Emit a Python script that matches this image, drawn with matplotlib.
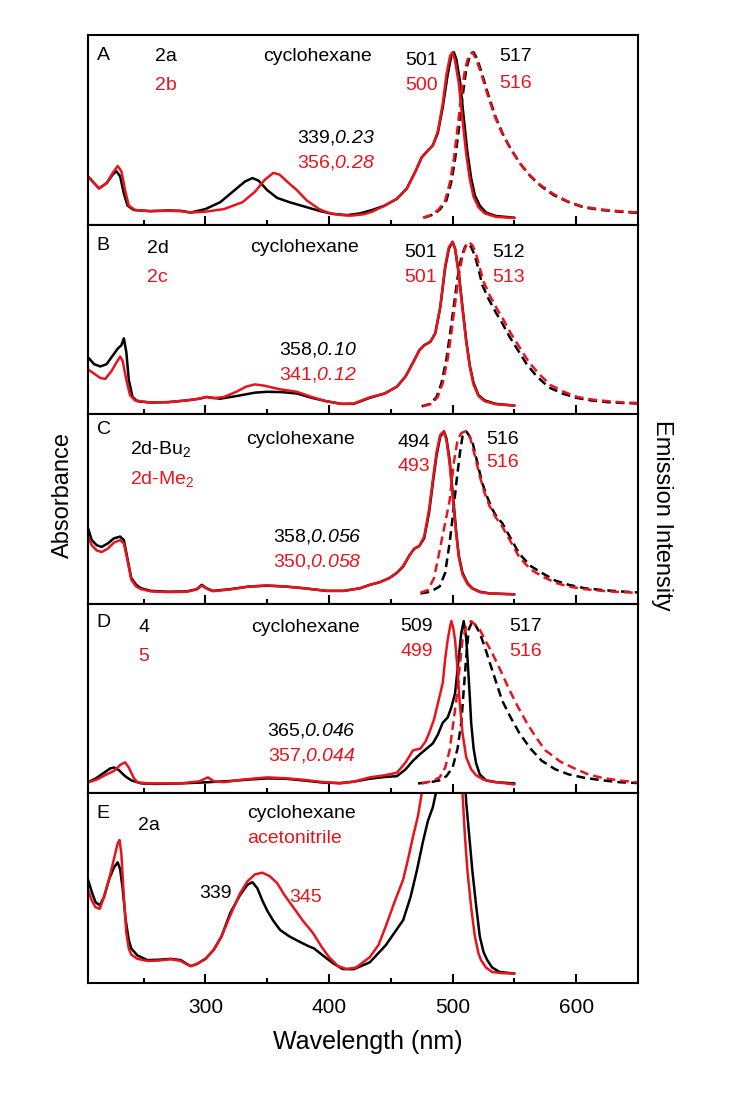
import matplotlib
matplotlib.use("Agg")
import matplotlib.pyplot as plt

plt.rcParams['font.family'] = ['Liberation Sans', 'DejaVu Sans']
plt.rcParams['mathtext.fontset'] = 'custom'
plt.rcParams['mathtext.rm'] = 'Liberation Sans'
plt.rcParams['mathtext.it'] = 'Liberation Sans:italic'
plt.rcParams['mathtext.sf'] = 'Liberation Sans:italic'
plt.rcParams['mathtext.default'] = 'regular'

RED = '#e8141c'
BLK = '#000000'

# ---------------- Panel A: 2a (black), 2b (red) ----------------
A_abs_k_wl = [205, 210, 214, 220, 225, 228, 231, 234, 237, 242, 255, 270, 280, 288, 300, 312, 322, 332, 338, 343, 350, 358, 368, 380, 392, 403, 415, 425, 435, 445, 455, 463, 470, 475, 480, 484, 488, 492, 496, 499, 501, 503, 506, 509, 512, 515, 518, 522, 527, 535, 550]
A_abs_k = [0.28, 0.24, 0.21, 0.24, 0.29, 0.31, 0.28, 0.18, 0.11, 0.085, 0.078, 0.082, 0.08, 0.07, 0.09, 0.13, 0.19, 0.25, 0.27, 0.255, 0.2, 0.155, 0.13, 0.105, 0.08, 0.062, 0.055, 0.065, 0.085, 0.11, 0.15, 0.21, 0.31, 0.39, 0.43, 0.46, 0.53, 0.68, 0.87, 0.98, 1.0, 0.96, 0.83, 0.62, 0.42, 0.27, 0.17, 0.11, 0.07, 0.05, 0.04]
A_abs_r_wl = [205, 210, 214, 220, 225, 229, 232, 235, 238, 243, 255, 270, 280, 288, 300, 315, 330, 340, 348, 355, 360, 366, 374, 382, 392, 400, 410, 418, 428, 435, 445, 455, 463, 470, 475, 480, 484, 488, 492, 495, 498, 500, 502, 505, 508, 511, 514, 517, 521, 526, 535, 550]
A_abs_r = [0.28, 0.24, 0.21, 0.24, 0.30, 0.34, 0.31, 0.2, 0.11, 0.085, 0.078, 0.08, 0.078, 0.07, 0.075, 0.09, 0.13, 0.19, 0.26, 0.30, 0.29, 0.25, 0.2, 0.14, 0.09, 0.067, 0.055, 0.052, 0.06, 0.075, 0.11, 0.15, 0.21, 0.31, 0.39, 0.43, 0.46, 0.54, 0.7, 0.87, 0.98, 1.0, 0.95, 0.82, 0.61, 0.41, 0.26, 0.16, 0.1, 0.065, 0.045, 0.038]
A_em_k_wl = [477, 485, 490, 495, 499, 502, 505, 508, 511, 514, 517, 520, 524, 529, 535, 541, 547, 555, 563, 572, 582, 594, 606, 620, 635, 650]
A_em_k = [0.04, 0.06, 0.09, 0.14, 0.25, 0.38, 0.55, 0.74, 0.9, 0.98, 1.0, 0.96, 0.87, 0.75, 0.62, 0.52, 0.44, 0.35, 0.28, 0.22, 0.17, 0.13, 0.1, 0.085, 0.075, 0.068]
A_em_r_wl = [476, 484, 489, 494, 498, 501, 504, 507, 510, 513, 516, 519, 523, 528, 534, 540, 546, 554, 562, 571, 581, 593, 605, 620, 635, 650]
A_em_r = [0.04, 0.06, 0.09, 0.14, 0.25, 0.38, 0.56, 0.75, 0.9, 0.98, 1.0, 0.96, 0.88, 0.76, 0.63, 0.53, 0.45, 0.36, 0.29, 0.23, 0.18, 0.135, 0.105, 0.088, 0.078, 0.07]

# ---------------- Panel B: 2d (black), 2c (red) ----------------
B_abs_k_wl = [205, 210, 215, 220, 225, 229, 232, 234, 236, 238, 241, 245, 255, 270, 285, 295, 301, 306, 312, 325, 340, 350, 362, 374, 386, 398, 410, 420, 433, 445, 455, 462, 468, 473, 477, 482, 486, 490, 494, 497, 500, 502, 505, 508, 511, 514, 517, 521, 526, 535, 550]
B_abs_k = [0.33, 0.29, 0.277, 0.29, 0.34, 0.38, 0.40, 0.44, 0.36, 0.2, 0.1, 0.075, 0.068, 0.07, 0.08, 0.09, 0.1, 0.095, 0.09, 0.105, 0.125, 0.13, 0.128, 0.12, 0.095, 0.075, 0.06, 0.06, 0.095, 0.12, 0.16, 0.22, 0.30, 0.37, 0.4, 0.42, 0.47, 0.62, 0.85, 0.96, 1.0, 0.96, 0.82, 0.62, 0.43, 0.28, 0.18, 0.11, 0.08, 0.06, 0.05]
B_abs_r_wl = [205, 210, 215, 219, 224, 228, 231, 233, 236, 239, 243, 255, 270, 285, 295, 301, 306, 315, 325, 333, 340, 348, 360, 374, 386, 398, 410, 420, 433, 445, 455, 462, 468, 473, 477, 482, 486, 490, 494, 497, 500, 502, 505, 508, 511, 514, 517, 521, 526, 535, 550]
B_abs_r = [0.26, 0.235, 0.21, 0.205, 0.25, 0.3, 0.334, 0.31, 0.2, 0.11, 0.08, 0.068, 0.07, 0.08, 0.09, 0.1, 0.093, 0.1, 0.13, 0.16, 0.173, 0.165, 0.145, 0.13, 0.1, 0.075, 0.06, 0.062, 0.098, 0.12, 0.16, 0.22, 0.30, 0.37, 0.4, 0.42, 0.47, 0.62, 0.86, 0.97, 1.0, 0.96, 0.81, 0.61, 0.42, 0.27, 0.17, 0.105, 0.075, 0.058, 0.05]
B_em_k_wl = [475, 482, 487, 491, 495, 498, 501, 504, 507, 510, 512, 515, 518, 521, 524, 529, 535, 540, 546, 553, 560, 568, 578, 589, 600, 612, 625, 638, 650]
B_em_k = [0.046, 0.06, 0.1, 0.18, 0.32, 0.47, 0.63, 0.79, 0.91, 0.97, 0.99, 0.97, 0.92, 0.84, 0.75, 0.67, 0.59, 0.53, 0.45, 0.37, 0.29, 0.22, 0.155, 0.12, 0.095, 0.08, 0.07, 0.065, 0.062]
B_em_r_wl = [476, 483, 488, 492, 496, 499, 502, 505, 508, 511, 513, 516, 519, 522, 525, 530, 536, 541, 547, 554, 561, 569, 579, 590, 601, 613, 626, 638, 650]
B_em_r = [0.046, 0.06, 0.1, 0.18, 0.32, 0.47, 0.64, 0.8, 0.92, 0.98, 1.0, 0.98, 0.93, 0.85, 0.77, 0.69, 0.61, 0.55, 0.47, 0.39, 0.31, 0.24, 0.17, 0.13, 0.1, 0.085, 0.075, 0.068, 0.065]

# ---------------- Panel C: 2d-Bu2 (black), 2d-Me2 (red) ----------------
C_abs_k_wl = [205, 208, 212, 216, 221, 226, 231, 234, 237, 240, 244, 248, 256, 270, 285, 293, 297, 301, 306, 320, 335, 350, 365, 380, 398, 412, 425, 433, 441, 449, 455, 460, 465, 469, 473, 477, 481, 484, 487, 490, 493, 495, 497.5, 500, 503, 505, 508, 512, 516, 522, 530, 550]
C_abs_k = [0.44, 0.37, 0.34, 0.33, 0.35, 0.38, 0.39, 0.37, 0.26, 0.15, 0.11, 0.09, 0.075, 0.07, 0.072, 0.085, 0.11, 0.09, 0.075, 0.085, 0.1, 0.105, 0.1, 0.09, 0.075, 0.075, 0.09, 0.11, 0.125, 0.15, 0.18, 0.216, 0.28, 0.32, 0.335, 0.38, 0.53, 0.7, 0.86, 0.97, 1.0, 0.96, 0.84, 0.65, 0.41, 0.28, 0.18, 0.12, 0.09, 0.07, 0.06, 0.055]
C_abs_r_wl = [205, 208, 212, 216, 221, 226, 231, 234, 237, 240, 244, 248, 256, 270, 285, 293, 297, 301, 306, 320, 335, 350, 365, 380, 398, 412, 425, 433, 441, 449, 455, 460, 465, 469, 473, 477, 481, 484, 487, 490, 493, 495, 497.5, 500, 503, 505, 508, 512, 516, 522, 530, 550]
C_abs_r = [0.39, 0.34, 0.31, 0.30, 0.32, 0.355, 0.37, 0.35, 0.25, 0.14, 0.1, 0.085, 0.072, 0.068, 0.07, 0.083, 0.105, 0.088, 0.073, 0.083, 0.1, 0.107, 0.1, 0.09, 0.075, 0.075, 0.09, 0.11, 0.125, 0.15, 0.18, 0.22, 0.28, 0.32, 0.335, 0.39, 0.55, 0.72, 0.88, 0.98, 1.0, 0.95, 0.82, 0.63, 0.4, 0.27, 0.17, 0.115, 0.088, 0.068, 0.06, 0.055]
C_em_k_wl = [474, 482, 489.5, 494, 497.6, 500, 503, 506, 508, 511, 513, 516, 520, 524, 528, 532, 536, 540, 547, 554, 563, 572, 583, 594, 607, 621, 635, 650]
C_em_k = [0.06, 0.07, 0.1, 0.18, 0.355, 0.5, 0.70, 0.88, 0.97, 1.0, 0.98, 0.94, 0.82, 0.70, 0.62, 0.55, 0.5, 0.47, 0.38, 0.29, 0.22, 0.18, 0.135, 0.11, 0.09, 0.08, 0.072, 0.066]
C_em_r_wl = [474, 480, 485, 489.5, 494, 497.6, 501, 504, 507, 510, 514, 518, 522, 526, 530, 535, 540, 547, 554, 563, 573, 584, 594, 607, 621, 635, 650]
C_em_r = [0.064, 0.08, 0.15, 0.31, 0.47, 0.6, 0.82, 0.95, 0.99, 1.0, 0.97, 0.86, 0.74, 0.64, 0.565, 0.5, 0.45, 0.36, 0.27, 0.2, 0.157, 0.12, 0.1, 0.085, 0.075, 0.068, 0.064]

# ---------------- Panel D: 4 (black), 5 (red) ----------------
D_abs_k_wl = [205, 212, 218, 223, 226, 230, 235, 240, 248, 260, 280, 300, 320, 335, 350, 365, 378, 395, 409, 420, 433, 445, 455, 462, 468, 474, 479, 484, 488, 492, 496, 499, 502, 505, 507, 509, 511, 512, 514, 515, 517, 519, 522, 527, 535, 550]
D_abs_k = [0.064, 0.09, 0.12, 0.145, 0.15, 0.135, 0.1, 0.076, 0.058, 0.055, 0.058, 0.064, 0.072, 0.08, 0.087, 0.085, 0.076, 0.063, 0.06, 0.068, 0.085, 0.095, 0.1, 0.14, 0.19, 0.23, 0.26, 0.29, 0.34, 0.41, 0.44, 0.5, 0.58, 0.79, 0.93, 1.0, 0.9, 0.79, 0.55, 0.41, 0.26, 0.175, 0.11, 0.076, 0.065, 0.058]
D_abs_r_wl = [205, 212, 220, 226, 231, 235, 238, 242, 245, 255, 280, 295, 302, 307, 315, 330, 350, 365, 378, 395, 409, 420, 433, 445, 455, 462, 468, 474, 478, 481, 485, 488, 492, 494, 496, 498, 499, 500.5, 502, 504, 505.6, 508, 511, 515, 519, 525, 530, 550]
D_abs_r = [0.064, 0.08, 0.11, 0.13, 0.165, 0.18, 0.15, 0.09, 0.064, 0.058, 0.058, 0.07, 0.093, 0.07, 0.065, 0.08, 0.093, 0.088, 0.08, 0.066, 0.058, 0.068, 0.093, 0.105, 0.12, 0.18, 0.25, 0.26, 0.3, 0.35, 0.43, 0.52, 0.64, 0.78, 0.89, 0.97, 1.0, 0.96, 0.89, 0.72, 0.54, 0.35, 0.21, 0.14, 0.105, 0.08, 0.07, 0.052]
D_em_k_wl = [472, 482, 489.5, 495, 500, 504, 507, 509, 511, 513, 516, 519, 522, 526, 530, 535, 540, 547, 554, 563, 572, 583, 594, 607, 621, 635, 650]
D_em_k = [0.058, 0.065, 0.076, 0.1, 0.15, 0.26, 0.41, 0.6, 0.79, 0.95, 1.0, 0.97, 0.93, 0.85, 0.76, 0.65, 0.54, 0.44, 0.35, 0.26, 0.19, 0.14, 0.11, 0.09, 0.076, 0.065, 0.06]
D_em_r_wl = [475, 483, 489.5, 494, 497.6, 500, 503, 505.5, 508, 511, 515, 518, 522, 527, 532, 539, 546, 553, 560, 567, 575, 587, 600, 610, 621, 635, 650]
D_em_r = [0.058, 0.07, 0.093, 0.15, 0.25, 0.38, 0.54, 0.72, 0.89, 0.97, 1.0, 0.98, 0.95, 0.88, 0.815, 0.71, 0.6, 0.5, 0.41, 0.33, 0.25, 0.185, 0.14, 0.11, 0.09, 0.075, 0.064]

# ---------------- Panel E: 2a in cyclohexane (black) / acetonitrile (red) ----------------
E_abs_k_wl = [205, 208, 211, 214.5, 218, 222, 226, 229, 231, 233, 235.5, 238, 240, 245, 253, 262, 272, 280, 284, 288, 293, 300, 306.5, 313, 320, 328, 334, 338, 342, 346, 350, 355, 360.5, 368, 376, 383, 388, 395, 403, 411, 420, 433, 446, 460, 466, 471, 476, 480, 484, 487, 492, 496, 501, 506, 509, 511, 513.5, 516, 519, 522, 525, 528, 532, 538, 550]
E_abs_k = [0.60, 0.53, 0.47, 0.45, 0.5, 0.6, 0.67, 0.70, 0.66, 0.55, 0.365, 0.25, 0.2, 0.16, 0.133, 0.135, 0.14, 0.133, 0.115, 0.098, 0.11, 0.14, 0.19, 0.27, 0.405, 0.51, 0.57, 0.585, 0.55, 0.48, 0.42, 0.36, 0.307, 0.27, 0.24, 0.215, 0.2, 0.16, 0.116, 0.081, 0.08, 0.12, 0.22, 0.365, 0.5, 0.65, 0.82, 0.94, 1.02, 1.12, 1.5, 1.9, 2.2, 1.8, 1.3, 1.05, 0.85, 0.65, 0.45, 0.27, 0.18, 0.133, 0.09, 0.064, 0.055]
E_abs_r_wl = [205, 208, 211, 214.5, 218, 222, 226, 229, 230.5, 232, 234, 236, 238, 240, 245, 253, 262, 272, 280, 284, 288, 293, 300, 306.5, 313, 320, 328, 334, 340, 346, 352, 358, 364, 371, 379, 387, 394, 400, 407, 414, 422, 433, 440, 446.5, 453, 460, 464, 468, 472, 475, 480, 488, 497, 503, 506, 508, 510, 512, 515, 518, 521, 523, 527, 532, 540, 550]
E_abs_r = [0.54, 0.48, 0.44, 0.43, 0.5, 0.6, 0.72, 0.81, 0.83, 0.75, 0.5, 0.29, 0.2, 0.165, 0.14, 0.128, 0.13, 0.138, 0.128, 0.112, 0.098, 0.11, 0.14, 0.19, 0.27, 0.39, 0.52, 0.59, 0.63, 0.64, 0.62, 0.58, 0.51, 0.44, 0.36, 0.29, 0.21, 0.15, 0.1, 0.081, 0.09, 0.15, 0.22, 0.34, 0.47, 0.60, 0.72, 0.85, 0.97, 1.1, 1.4, 1.9, 2.2, 1.8, 1.4, 1.1, 0.85, 0.65, 0.44, 0.27, 0.17, 0.133, 0.09, 0.064, 0.057, 0.055]

panel_letters = ['A', 'B', 'C', 'D', 'E']

W, H = 739, 1094
fig = plt.figure(figsize=(W / 100, H / 100), dpi=100)

left_px, right_px = 88, 638
top_px, bot_px = 35, 983
ph = (bot_px - top_px) / 5.0

axes = []
for i in range(5):
    ybot = top_px + (i + 1) * ph
    ax = fig.add_axes([left_px / W, 1 - ybot / H, (right_px - left_px) / W, ph / H])
    ax.set_xlim(205, 650)
    ax.set_ylim(0, 1.1)
    ax.set_yticks([])
    ax.set_xticks([300, 400, 500, 600])
    ax.set_xticks([250, 350, 450, 550], minor=True)
    ax.tick_params(axis='x', which='both', direction='in', top=False, bottom=True,
                   width=1.5, labelsize=15, pad=11, labelbottom=(i == 4))
    ax.tick_params(axis='x', which='major', length=6.5)
    ax.tick_params(axis='x', which='minor', length=3.5)
    for s in ax.spines.values():
        s.set_linewidth(1.5)
    axes.append(ax)

LW = 1.8
DASH = (0, (3.5, 2.0))

def draw(ax, wl, v, color, dashed=False):
    ax.plot(wl, v, color=color, lw=LW, linestyle=DASH if dashed else '-',
            solid_joinstyle='round', solid_capstyle='round')

axA, axB, axC, axD, axE = axes
draw(axA, A_abs_k_wl, A_abs_k, BLK); draw(axA, A_em_k_wl, A_em_k, BLK, True)
draw(axA, A_abs_r_wl, A_abs_r, RED); draw(axA, A_em_r_wl, A_em_r, RED, True)
draw(axB, B_abs_k_wl, B_abs_k, BLK); draw(axB, B_em_k_wl, B_em_k, BLK, True)
draw(axB, B_abs_r_wl, B_abs_r, RED); draw(axB, B_em_r_wl, B_em_r, RED, True)
draw(axC, C_abs_k_wl, C_abs_k, BLK); draw(axC, C_em_k_wl, C_em_k, BLK, True)
draw(axC, C_abs_r_wl, C_abs_r, RED); draw(axC, C_em_r_wl, C_em_r, RED, True)
draw(axD, D_abs_k_wl, D_abs_k, BLK); draw(axD, D_em_k_wl, D_em_k, BLK, True)
draw(axD, D_abs_r_wl, D_abs_r, RED); draw(axD, D_em_r_wl, D_em_r, RED, True)
draw(axE, E_abs_k_wl, E_abs_k, BLK)
draw(axE, E_abs_r_wl, E_abs_r, RED)

FS = 14

def t(ax, x, y, s, color=BLK, ha='center'):
    ax.text(x, y, s, transform=ax.transAxes, color=color, fontsize=FS, ha=ha, va='center')

# panel letters
letter_y = [0.89, 0.89, 0.92, 0.90, 0.895]
for ax, L, ly in zip(axes, panel_letters, letter_y):
    t(ax, 0.016, ly, L, ha='left')

# Panel A
t(axA, 0.122, 0.884, '2a', ha='left'); t(axA, 0.122, 0.735, '2b', RED, ha='left')
t(axA, 0.417, 0.884, 'cyclohexane')
t(axA, 0.522, 0.46, r'339,$\mathsf{0.23}$', ha='right')
t(axA, 0.522, 0.328, r'356,$\mathsf{0.28}$', RED, ha='right')
t(axA, 0.606, 0.868, '501'); t(axA, 0.606, 0.735, '500', RED)
t(axA, 0.778, 0.884, '517'); t(axA, 0.778, 0.746, '516', RED)

# Panel B
t(axB, 0.107, 0.874, '2d', ha='left'); t(axB, 0.107, 0.72, '2c', RED, ha='left')
t(axB, 0.393, 0.88, 'cyclohexane')
t(axB, 0.489, 0.34, r'358,$\mathsf{0.10}$', ha='right')
t(axB, 0.489, 0.21, r'341,$\mathsf{0.12}$', RED, ha='right')
t(axB, 0.605, 0.853, '501'); t(axB, 0.605, 0.72, '501', RED)
t(axB, 0.764, 0.853, '512'); t(axB, 0.764, 0.72, '513', RED)

# Panel C
t(axC, 0.076, 0.815, r'2d-Bu$_2$', ha='left'); t(axC, 0.076, 0.656, r'2d-Me$_2$', RED, ha='left')
t(axC, 0.386, 0.868, 'cyclohexane')
t(axC, 0.498, 0.354, r'358,$\mathsf{0.056}$', ha='right')
t(axC, 0.498, 0.222, r'350,$\mathsf{0.058}$', RED, ha='right')
t(axC, 0.593, 0.85, '494'); t(axC, 0.593, 0.725, '493', RED)
t(axC, 0.753, 0.868, '516'); t(axC, 0.753, 0.746, '516', RED)

# Panel D
t(axD, 0.091, 0.873, '4', ha='left'); t(axD, 0.091, 0.72, '5', RED, ha='left')
t(axD, 0.395, 0.873, 'cyclohexane')
t(axD, 0.486, 0.333, r'365,$\mathsf{0.046}$', ha='right')
t(axD, 0.486, 0.20, r'357,$\mathsf{0.044}$', RED, ha='right')
t(axD, 0.598, 0.878, '509'); t(axD, 0.598, 0.746, '499', RED)
t(axD, 0.795, 0.878, '517'); t(axD, 0.795, 0.746, '516', RED)

# Panel E
t(axE, 0.091, 0.83, '2a', ha='left')
t(axE, 0.289, 0.895, 'cyclohexane', ha='left')
t(axE, 0.289, 0.763, 'acetonitrile', RED, ha='left')
t(axE, 0.262, 0.474, '339', ha='right')
t(axE, 0.365, 0.453, '345', RED, ha='left')

fig.text(63 / W, 1 - 495 / H, 'Absorbance', rotation=90, ha='center', va='center', fontsize=17)
fig.text(662 / W, 1 - 515 / H, 'Emission Intensity', rotation=-90, ha='center', va='center', fontsize=17)
fig.text(368 / W, 1 - 1042 / H, 'Wavelength (nm)', ha='center', va='center', fontsize=18)

fig.savefig('out.png', dpi=100)
